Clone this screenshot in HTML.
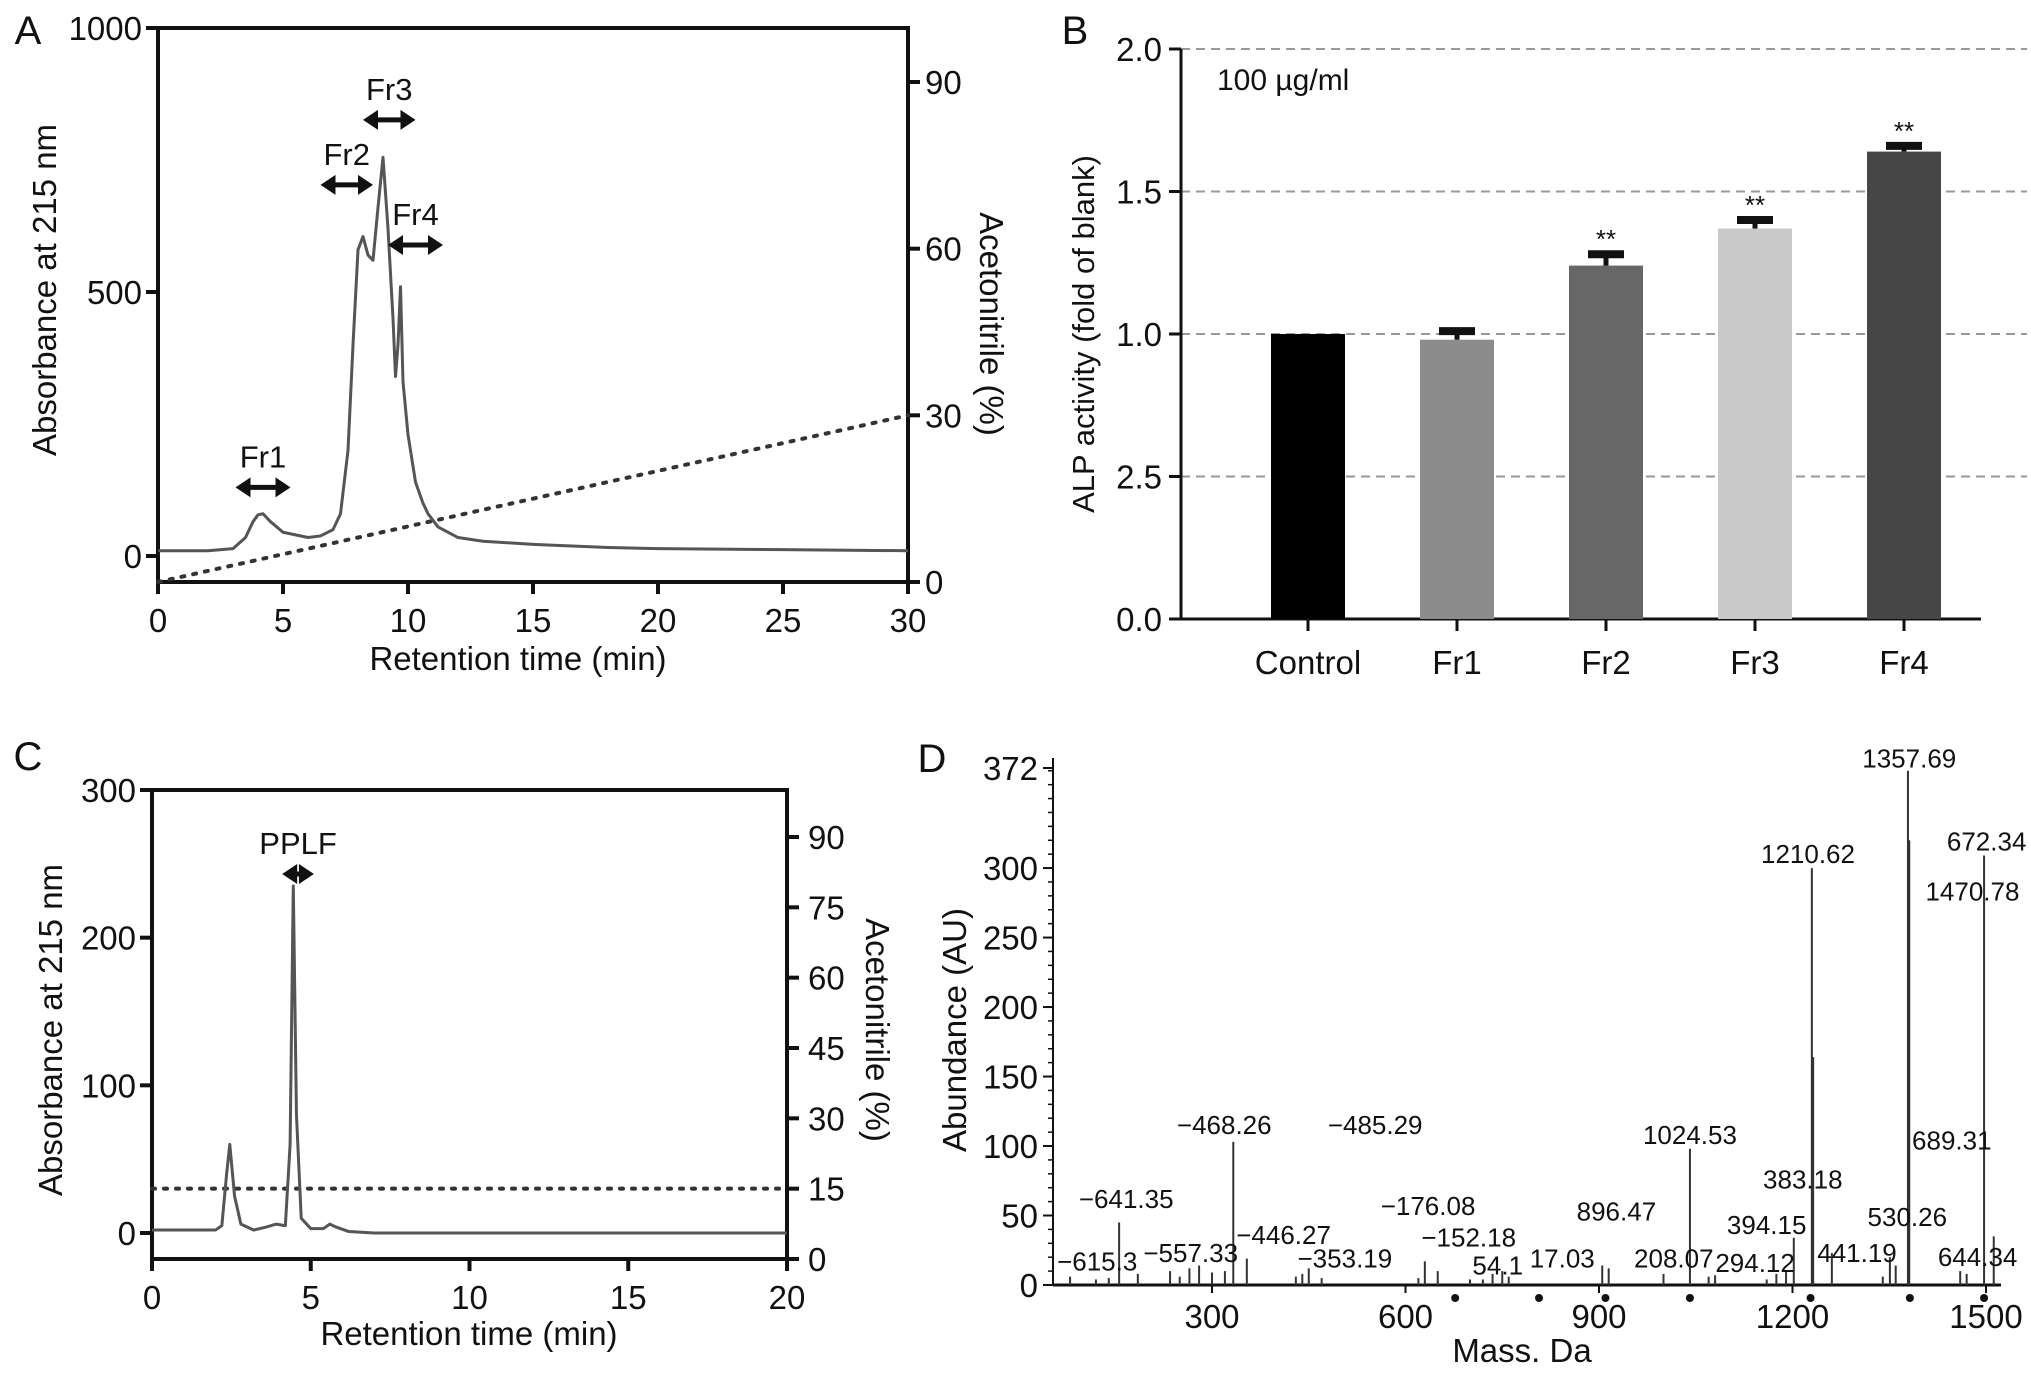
<!DOCTYPE html>
<html><head><meta charset="utf-8"><style>
html,body{margin:0;padding:0;background:#fff}
svg{display:block;font-family:"Liberation Sans",sans-serif}
</style></head><body>
<svg id="fig" width="2031" height="1376" viewBox="0 0 2031 1376" xmlns="http://www.w3.org/2000/svg"></svg>
<script>
// ---- Panel A data
const aTime=[0,1,2,3,3.5,3.8,4.0,4.2,4.5,5,5.5,6,6.5,7,7.3,7.6,7.8,8.0,8.2,8.4,8.6,8.8,9.0,9.2,9.4,9.5,9.6,9.7,9.8,10.0,10.3,10.6,10.8,11.2,12,13,15,18,20,25,30];
const aAbs=[10,10,10,14,35,65,78,80,65,45,40,35,38,50,80,200,400,580,605,570,560,660,755,620,450,340,400,510,330,230,140,100,80,55,35,28,22,16,14,12,10];
const aXTicks=[0,5,10,15,20,25,30];
const aYTicks=[0,500,1000];
const aRTicks=[0,30,60,90];
const aGradient=[[0,0],[30,30]];
const aFracNames=["Fr1","Fr2","Fr3","Fr4"];
const aFracStart=[3.1,6.5,8.2,9.2];
const aFracEnd=[5.3,8.6,10.3,11.4];
const aFracLevel=[130,703,826,589];
// ---- Panel B data
const bCats=["Control","Fr1","Fr2","Fr3","Fr4"];
const bVals=[1.0,0.98,1.24,1.37,1.64];
const bErr=[0,0.03,0.04,0.03,0.02];
const bSig=["","","**","**","**"];
const bTickVals=[0,0.5,1.0,1.5,2.0];
const bTickLabels=["0.0","2.5","1.0","1.5","2.0"];
const bColors=["#000","#8c8c8c","#676767","#c9c9c9","#464646"];
// ---- Panel C data
const cTime=[0,1,2,2.2,2.35,2.45,2.6,2.8,3.2,3.6,3.9,4.2,4.35,4.45,4.55,4.7,5.0,5.4,5.6,5.8,6.2,7,10,15,20];
const cAbs=[2,2,2,5,40,60,25,6,2,4,6,5,60,235,80,10,3,3,6,4,1,0,0,0,0];
const cXTicks=[0,5,10,15,20];
const cYTicks=[0,100,200,300];
const cRTicks=[0,15,30,45,60,75,90];
const cGradient=15;
// ---- Panel D data
const dMass=[156,333,354,1041,1230,1232,1379,1381,1497,1202,630,1512,1351,1261,80,120,140,185,235,250,265,280,300,320,430,440,450,470,620,650,700,720,735,750,760,905,915,1000,1070,1080,1160,1175,1190,1340,1360,1460,1470];
const dVal=[45,103,19,98,300,164,370,320,309,34,17,35,20,23,6,4,5,8,10,6,12,14,9,10,6,8,12,5,5,10,4,4,8,10,6,14,12,8,6,7,4,8,10,6,14,10,8];
const dDotMass=[677,807,910,1041,1228,1382,1497];
const dXTicks=[300,600,900,1200,1500];
const dYTicks=[0,50,100,150,200,250,300,372];
const dLabels=["\u2212641.35","\u2212615.3","\u2212557.33","\u2212468.26","\u2212446.27","\u2212485.29","\u2212353.19","\u2212176.08","\u2212152.18","54.1","17.03","896.47","208.07","1024.53","294.12","394.15","383.18","1210.62","441.19","530.26","1357.69","672.34","1470.78","689.31","644.34"];
const dLabMass=[167,122,267,319,411,553,506,635,698,743,843,927,1016,1041,1142,1160,1216,1224,1300,1378,1381,1501,1479,1447,1487];
const dLabVal=[62,17,23,115,36,115,19,57,34,14,19,53,19,108,16,43,76,310,23,49,379,319,283,104,20];

const svg=document.getElementById('fig');
const NS='http://www.w3.org/2000/svg';
const FS=33;
function mk(tag,attrs,parent){const e=document.createElementNS(NS,tag);for(const k in attrs)e.setAttribute(k,attrs[k]);(parent||svg).appendChild(e);return e;}
function txt(s,x,y,size,anchor,parent,rot){const e=mk('text',{x:x,y:y,'font-size':size,'text-anchor':anchor||'middle',fill:'#111'},parent);if(rot)e.setAttribute('transform','rotate('+rot+' '+x+' '+y+')');e.textContent=s;return e;}
function line(x1,y1,x2,y2,w,parent,extra){const e=mk('line',Object.assign({x1:x1,y1:y1,x2:x2,y2:y2,stroke:'#111','stroke-width':w},extra||{}),parent);return e;}
function dblArrow(x1,x2,y,parent){line(x1+10,y,x2-10,y,5,parent);mk('path',{d:`M${x1},${y} l15,-10 v20 z M${x2},${y} l-15,-10 v20 z`,fill:'#111'},parent);}

// ===== Panel A
const gA=mk('g',{});
const ax=t=>158+(908-158)*t/30, ay=v=>556-(556-28)*v/1000, ar=p=>582-(582-82)*p/90;
txt('A',28,44,40,'middle',gA);
let e=mk('rect',{x:158,y:28,width:750,height:554,fill:'none',stroke:'#111','stroke-width':4},gA);

aXTicks.forEach(t=>{line(ax(t),582,ax(t),594,4,gA);e=txt(String(t),ax(t),632,FS,'middle',gA);});
aYTicks.forEach(v=>{line(146,ay(v),158,ay(v),4,gA);e=txt(String(v),142,ay(v)+12,FS,'end',gA);});
aRTicks.forEach(p=>{line(908,ar(p),920,ar(p),4,gA);e=txt(String(p),925,ar(p)+12,FS,'start',gA);});
e=txt('Retention time (min)',518,670,FS,'middle',gA);
e=txt('Absorbance at 215 nm',56,290,FS,'middle',gA,-90);
e=txt('Acetonitrile (%)',980,324,FS,'middle',gA,90);
e=line(ax(aGradient[0][0]),ar(aGradient[0][1]),ax(aGradient[1][0]),ar(aGradient[1][1]),4,gA,{'stroke-dasharray':'3 9','stroke-linecap':'round',stroke:'#333'});

e=mk('polyline',{points:aTime.map((t,i)=>ax(t)+','+ay(aAbs[i])).join(' '),fill:'none',stroke:'#555','stroke-width':3,'stroke-linejoin':'round'},gA);

aFracNames.forEach((n,i)=>{const y=ay(aFracLevel[i]);dblArrow(ax(aFracStart[i]),ax(aFracEnd[i]),y,gA);e=txt(n,(ax(aFracStart[i])+ax(aFracEnd[i]))/2,y-20,31,'middle',gA);});

// ===== Panel B
const gB=mk('g',{});
const by=v=>619-(619-49)*v/2.0, bx=i=>1308+i*149;
txt('B',1075,44,40,'middle',gB);
bTickVals.forEach((v,i)=>{if(v>0){e=line(1181,by(v),2027,by(v),2,gB,{stroke:'#999','stroke-dasharray':'9 6'});}
 line(1169,by(v),1181,by(v),3,gB);e=txt(bTickLabels[i],1162,by(v)+12,FS,'end',gB);});
line(1181,by(2.0),1181,619,3,gB);line(1181,619,1981,619,3,gB);
e=txt('100 \u00b5g/ml',1217,90,30,'start',gB);
e=txt('ALP activity (fold of blank)',1094,334,31,'middle',gB,-90);
bCats.forEach((c,i)=>{const x=bx(i);
 e=mk('rect',{x:x-37,y:by(bVals[i]),width:74,height:619-by(bVals[i]),fill:bColors[i]},gB);
 if(bErr[i]>0){line(x,by(bVals[i]),x,by(bVals[i]+bErr[i]),5,gB);e=line(x-18,by(bVals[i]+bErr[i]),x+18,by(bVals[i]+bErr[i]),8,gB);}
 if(bSig[i]){e=txt(bSig[i],x,by(bVals[i]+bErr[i])-6,26,'middle',gB);}
 line(x,619,x,631,3,gB);
 e=txt(c,x,674,FS,'middle',gB);});

// ===== Panel C
const gC=mk('g',{});
const cx=t=>152+(787-152)*t/20, cy=v=>1233-(1233-790)*v/300, cr=p=>1259-(1259-837)*p/90;
txt('C',28,770,40,'middle',gC);
e=mk('rect',{x:152,y:790,width:635,height:469,fill:'none',stroke:'#111','stroke-width':4},gC);
cXTicks.forEach(t=>{line(cx(t),1259,cx(t),1271,4,gC);e=txt(String(t),cx(t),1309,FS,'middle',gC);});
cYTicks.forEach(v=>{line(140,cy(v),152,cy(v),4,gC);e=txt(String(v),136,cy(v)+12,FS,'end',gC);});
cRTicks.forEach(p=>{line(787,cr(p),799,cr(p),4,gC);e=txt(String(p),808,cr(p)+12,FS,'start',gC);});
e=txt('Retention time (min)',469,1345,FS,'middle',gC);
e=txt('Absorbance at 215 nm',62,1030,FS,'middle',gC,-90);
e=txt('Acetonitrile (%)',866,1030,FS,'middle',gC,90);
e=line(cx(0),cr(cGradient),cx(20),cr(cGradient),4,gC,{'stroke-dasharray':'3 9','stroke-linecap':'round',stroke:'#333'});
e=mk('polyline',{points:cTime.map((t,i)=>cx(t)+','+cy(cAbs[i])).join(' '),fill:'none',stroke:'#555','stroke-width':3,'stroke-linejoin':'round'},gC);
dblArrow(cx(4.1),cx(5.1),874,gC);
e=txt('PPLF',cx(4.6),854,31,'middle',gC);

// ===== Panel D
const gD=mk('g',{});
const dx=m=>1212+(m-300)*0.645, dy=v=>1285-(1285-768)*v/372;
txt('D',932,772,40,'middle',gD);
line(1053,758,1053,1285,2,gD);line(1053,1285,2001,1285,3,gD);
for(let v=0;v<=372;v+=10){line(1048,dy(v),1053,dy(v),1.5,gD);}
dYTicks.forEach(v=>{line(1043,dy(v),1053,dy(v),2,gD);e=txt(String(v),1038,dy(v)+12,FS,'end',gD);});
dXTicks.forEach(m=>{line(dx(m),1285,dx(m),1293,2,gD);e=txt(String(m),dx(m),1328,FS,'middle',gD);});
e=txt('Mass. Da',1522,1362,FS,'middle',gD);
e=txt('Abundance (AU)',966,1030,FS,'middle',gD,-90);
dMass.forEach((m,i)=>{e=line(dx(m),1285,dx(m),dy(dVal[i]),2,gD,{stroke:'#333'});});
dDotMass.forEach(m=>{e=mk('circle',{cx:dx(m),cy:1298,r:4,fill:'#111'},gD);});
dLabels.forEach((s,i)=>{e=txt(s,dx(dLabMass[i]),dy(dLabVal[i])+9,26,'middle',gD);});
</script>
</body></html>
